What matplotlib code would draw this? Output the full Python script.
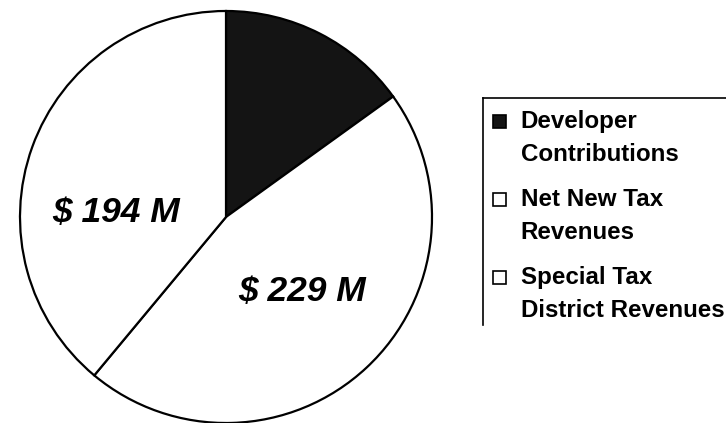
import matplotlib
matplotlib.use("Agg")
import matplotlib.pyplot as plt
from matplotlib.lines import Line2D
from matplotlib.legend_handler import HandlerPatch

categories = ["Developer\nContributions", "Net New Tax\nRevenues", "Special Tax\nDistrict Revenues"]
values = [75, 229, 194]
value_labels = ["", "$ 229 M", "$ 194 M"]
colors = ["#141414", "white", "white"]

plt.rcParams['font.family'] = ['Liberation Sans', 'DejaVu Sans']

W, H = 726, 423
fig = plt.figure(figsize=(W / 100, H / 100), dpi=100)
cx, cy, r = 226, 217, 206
ax = fig.add_axes([(cx - r) / W, (H - cy - r) / H, 2 * r / W, 2 * r / H])
wedges, _ = ax.pie(values, colors=colors, startangle=90, counterclock=False,
                   wedgeprops=dict(edgecolor="black", linewidth=1.6, clip_on=False))
ax.set_xlim(-1, 1)
ax.set_ylim(-1, 1)
ax.set_aspect("equal")
ax.axis("off")

label_pos = {1: (0.37, -0.36), 2: (-0.535, 0.02)}
for i, (x, y) in label_pos.items():
    ax.text(x, y, value_labels[i], ha="center", va="center", fontsize=25.5,
            fontweight="bold", fontstyle="italic")

FS = 17.4


def top_square(legend, orig_handle, xdescent, ydescent, width, height, fontsize):
    s = 0.55 * fontsize
    return plt.Rectangle((-xdescent, -ydescent + height - s + 0.15 * fontsize), s, s)


handles = [plt.Rectangle((0, 0), 1, 1, facecolor=c, edgecolor="black", linewidth=1.2) for c in colors]
leg = fig.legend(handles, categories, loc="upper left",
                 bbox_to_anchor=(481 / W, 1 - 98 / H), frameon=False,
                 prop=dict(family=['Liberation Sans', 'DejaVu Sans'], size=FS, weight="bold"),
                 handlelength=0.55, handleheight=2.3,
                 handletextpad=0.6, labelspacing=0.9, borderpad=0,
                 handler_map={plt.Rectangle: HandlerPatch(patch_func=top_square)})
for t in leg.get_texts():
    t.set_linespacing(1.57)

# legend box lines (left and top)
fig.add_artist(Line2D([483 / W, 483 / W], [1 - 98 / H, 1 - 325 / H], color="black", lw=1.2, transform=fig.transFigure))
fig.add_artist(Line2D([483 / W, 1.0], [1 - 98 / H, 1 - 98 / H], color="black", lw=1.2, transform=fig.transFigure))

fig.savefig("out.png", dpi=100, facecolor="white")
